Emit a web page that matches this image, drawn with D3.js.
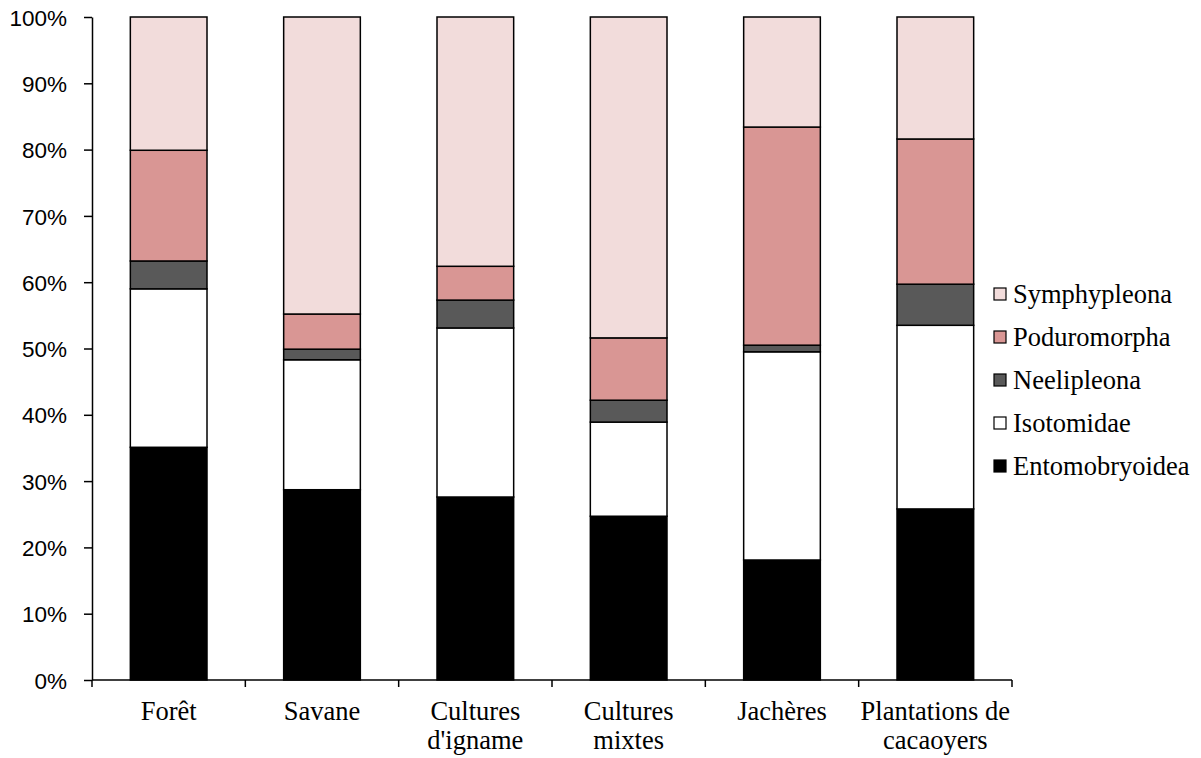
<!DOCTYPE html>
<html>
<head>
<meta charset="utf-8">
<script src="https://cdn.jsdelivr.net/npm/d3@7"></script>
<style>
  body { margin: 0; background: #fff; }
  svg { display: block; }
</style>
</head>
<body>
<svg width="1201" height="758"></svg>
<script>
// categories (each label may have two lines)
var categories = ["Forêt", "Savane", "Cultures d'igname", "Cultures mixtes", "Jachères", "Plantations de cacaoyers"];
var category_lines = [["Forêt"], ["Savane"], ["Cultures", "d'igname"], ["Cultures", "mixtes"], ["Jachères"], ["Plantations de", "cacaoyers"]];

// percentage of each group per habitat
var entomobryoidea = [35.1, 28.7, 27.6, 24.7, 18.1, 25.8];
var isotomidae     = [23.9, 19.6, 25.5, 14.2, 31.4, 27.7];
var neelipleona    = [ 4.2,  1.6,  4.2,  3.3,  1.0,  6.2];
var poduromorpha   = [16.7,  5.3,  5.1,  9.4, 32.9, 21.9];
var symphypleona   = [20.1, 44.8, 37.6, 48.4, 16.6, 18.4];

var series_names = ["Entomobryoidea", "Isotomidae", "Neelipleona", "Poduromorpha", "Symphypleona"];
var series_values = [entomobryoidea, isotomidae, neelipleona, poduromorpha, symphypleona];
var colours = ["#000000", "#ffffff", "#595959", "#d99694", "#f2dcdb"];

var y_ticks = [0, 10, 20, 30, 40, 50, 60, 70, 80, 90, 100];

// build rows for d3.stack, normalised to 100 %
var rows = categories.map(function (c, i) {
    var row = { cat: c, idx: i }, total = 0;
    series_names.forEach(function (s, k) { total += series_values[k][i]; });
    series_names.forEach(function (s, k) { row[s] = series_values[k][i] / total * 100; });
    return row;
});

var svg = d3.select("svg"),
    m_left = 92, m_right = 1012, m_top = 17, m_bottom = 680,
    xScale = d3.scaleBand().domain(categories).range([m_left, m_right]).paddingInner(0.5).paddingOuter(0.25),
    yScale = d3.scaleLinear().domain([0, 100]).range([m_bottom, m_top])
;

var stacked = d3.stack().keys(series_names)(rows);

svg.selectAll(".layer")
    .data(stacked)
    .enter().append("g")
    .attr("class", "layer")
    .attr("fill", (d, k) => colours[k])
    .selectAll("rect")
    .data(d => d)
    .enter().append("rect")
    .attr("x", d => xScale(d.data.cat))
    .attr("y", d => yScale(d[1]))
    .attr("width", xScale.bandwidth())
    .attr("height", d => yScale(d[0]) - yScale(d[1]))
    .attr("stroke", "#000")
    .attr("stroke-width", 1.5);

// y axis
var yAxis = svg.append("g")
    .attr("transform", "translate(" + m_left + ",0)")
    .call(d3.axisLeft(yScale).tickValues(y_ticks).tickFormat(d => d + "%").tickSize(8).tickSizeOuter(0));
yAxis.select(".domain").attr("stroke", "#000").attr("stroke-width", 1.5);
yAxis.selectAll(".tick line").attr("stroke", "#000").attr("stroke-width", 1.5);
yAxis.selectAll(".tick text")
    .attr("x", -25)
    .attr("dy", "0.36em")
    .style("font-family", "'Liberation Sans', Arial, sans-serif")
    .style("font-size", "22.5px")
    .attr("fill", "#000");

// x axis: ticks at category boundaries
var step = xScale.step();
var boundaries = d3.range(categories.length + 1).map(i => m_left + i * step);
svg.append("line")
    .attr("x1", m_left).attr("x2", m_right)
    .attr("y1", m_bottom).attr("y2", m_bottom)
    .attr("stroke", "#000").attr("stroke-width", 1.5);
svg.selectAll(".xtick")
    .data(boundaries)
    .enter().append("line")
    .attr("x1", d => d).attr("x2", d => d)
    .attr("y1", m_bottom).attr("y2", m_bottom + 7)
    .attr("stroke", "#000").attr("stroke-width", 1.5);

svg.selectAll(".xlabel")
    .data(categories)
    .enter().append("text")
    .attr("class", "xlabel")
    .attr("text-anchor", "middle")
    .style("font-family", "'Liberation Serif', 'Times New Roman', serif")
    .style("font-size", "26.5px")
    .attr("fill", "#000")
    .each(function (c, i) {
        var t = d3.select(this);
        category_lines[i].forEach(function (line, j) {
            t.append("tspan")
                .attr("x", xScale(c) + xScale.bandwidth() / 2)
                .attr("y", 720 + j * 29)
                .text(line);
        });
    });

// legend, top entry is last series
var legend_order = series_names.slice().reverse();
var legend = svg.selectAll(".legend")
    .data(legend_order)
    .enter().append("g")
    .attr("class", "legend")
    .attr("transform", (d, i) => "translate(994," + (294 + i * 43) + ")");
legend.append("rect")
    .attr("x", 0).attr("y", -6)
    .attr("width", 12).attr("height", 12)
    .attr("fill", d => colours[series_names.indexOf(d)])
    .attr("stroke", "#000").attr("stroke-width", 1.2);
legend.append("text")
    .attr("x", 19).attr("y", 9)
    .style("font-family", "'Liberation Serif', 'Times New Roman', serif")
    .style("font-size", "26.5px")
    .attr("fill", "#000")
    .text(d => d);
</script>
</body>
</html>
